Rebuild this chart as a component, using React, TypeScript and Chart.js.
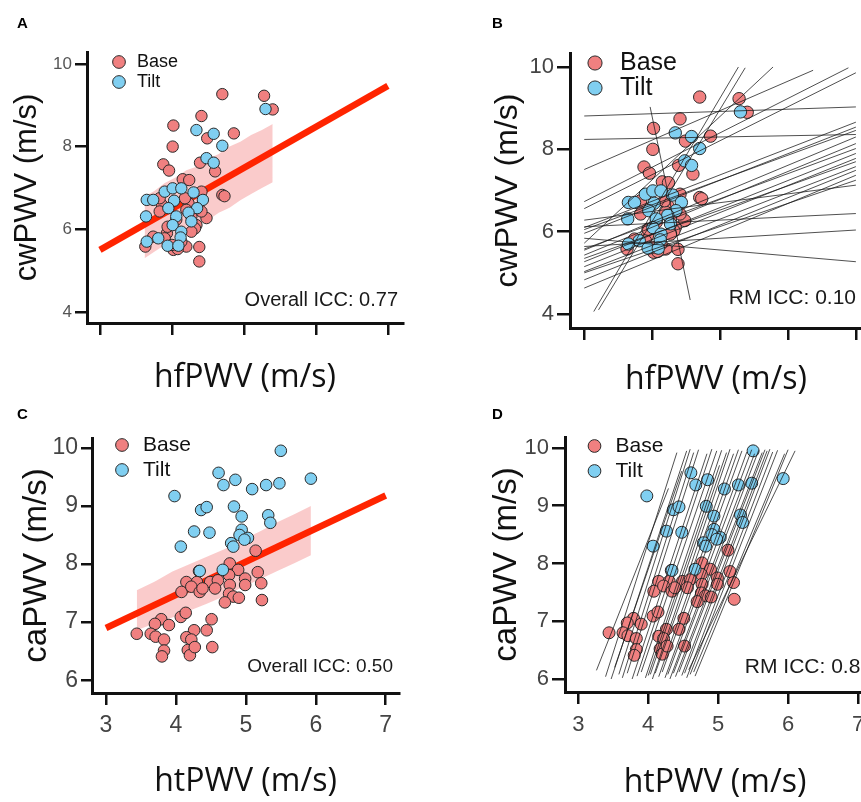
import React, { useEffect, useRef } from 'react';
import { Chart, registerables } from 'chart.js';

Chart.register(...registerables);

// ---------------- data ----------------
// Panels A & B : cwPWV (y) vs hfPWV (x)
const cwBase: number[][] = [
  [4.70, 9.27], [5.28, 9.23], [5.40, 8.90], [4.41, 8.74], [4.02, 8.51], [4.86, 8.32], [4.49, 8.20],
  [4.01, 8.00], [3.88, 7.57], [3.96, 7.42], [4.39, 7.61], [4.60, 7.40], [4.15, 7.21], [4.24, 7.19],
  [4.70, 6.83], [4.73, 6.80], [4.41, 6.91], [4.48, 6.27], [4.38, 5.57], [4.38, 5.22], [3.86, 6.59],
  [3.83, 6.43], [4.23, 6.63], [4.20, 6.47], [4.34, 6.10], [4.32, 6.02], [4.27, 5.94], [3.93, 5.90],
  [3.90, 5.78], [3.74, 5.82], [3.63, 5.58], [4.02, 5.50], [4.20, 5.58], [4.13, 5.70], [3.94, 6.06],
  [4.06, 6.23], [4.41, 6.43], [4.27, 6.31], [3.83, 6.75], [4.18, 6.75], [4.08, 5.52], [4.00, 5.62],
];
const cwTilt: number[][] = [
  [5.30, 8.91], [4.34, 8.40], [4.58, 8.31], [4.70, 8.02], [4.48, 7.72], [4.58, 7.61], [3.65, 6.71],
  [3.74, 6.71], [3.64, 6.31], [3.90, 6.91], [4.01, 6.99], [4.13, 6.99], [4.30, 6.89], [4.43, 6.71],
  [4.03, 6.69], [3.95, 6.51], [4.35, 6.51], [4.23, 6.40], [4.06, 6.31], [4.27, 6.19], [4.01, 6.10],
  [4.13, 5.94], [4.12, 5.80], [3.81, 5.78], [3.65, 5.70], [3.94, 5.60], [4.09, 5.60],
];
const cwFitX = [3, 7];
const cwFitY = [5.50, 9.47];
const cwBandX = [3.62, 3.75, 3.90, 4.05, 4.20, 4.35, 4.50, 4.65, 4.80, 4.95, 5.10, 5.25, 5.40];
const cwBandUpper = [6.80, 6.92, 7.12, 7.25, 7.43, 7.52, 7.70, 7.82, 8.00, 8.12, 8.28, 8.40, 8.55];
const cwBandLower = [5.30, 5.45, 5.62, 5.80, 5.93, 6.10, 6.22, 6.40, 6.52, 6.70, 6.85, 7.00, 7.14];
// per-subject lines [x1, y1, x2, y2]
const cwSubjectLines: number[][] = [
  [3, 8.81, 7, 9.03], [3, 8.24, 7, 8.36], [3, 7.51, 6.37, 9.92], [3, 6.73, 6.89, 9.98],
  [3, 6.56, 7, 9.86], [3, 5.72, 5.78, 10.0], [3.14, 4.06, 5.27, 10.0], [3.21, 4.10, 5.37, 9.98],
  [3.97, 9.03, 4.56, 4.34], [3, 6.28, 7, 7.13], [3, 6.12, 7, 6.44], [3, 5.84, 7, 5.27],
  [3, 5.64, 7, 6.04], [3, 6.10, 7, 8.66], [3, 5.96, 7, 8.54], [3, 6.05, 7, 8.46],
  [3, 5.55, 7, 8.30], [3, 5.43, 7, 8.14], [3, 5.58, 7, 8.02], [3, 5.27, 7, 7.90],
  [3, 5.15, 7, 7.78], [3, 5.35, 7, 7.70], [3, 5.03, 7, 7.58], [3, 4.83, 7, 7.49],
  [3, 4.63, 7, 7.37], [3, 5.00, 7, 7.25],
];

// Panels C & D : caPWV (y) vs htPWV (x)
const caBase: number[][] = [
  [5.14, 8.23], [4.77, 8.01], [4.33, 7.88], [4.89, 7.90], [5.17, 7.86], [4.15, 7.69], [4.30, 7.69],
  [4.49, 7.69], [4.60, 7.72], [4.76, 7.81], [4.99, 7.75], [4.08, 7.52], [4.22, 7.61], [4.34, 7.52],
  [4.38, 7.58], [4.56, 7.58], [4.77, 7.64], [4.99, 7.64], [5.22, 7.67], [4.76, 7.49], [4.82, 7.44],
  [4.90, 7.42], [4.70, 7.34], [5.23, 7.38], [4.07, 7.09], [4.14, 7.16], [4.51, 7.05], [3.79, 7.05],
  [3.70, 6.97], [3.90, 6.95], [3.44, 6.80], [3.64, 6.80], [3.71, 6.75], [3.83, 6.70], [4.26, 6.86],
  [4.15, 6.74], [4.44, 6.86], [4.22, 6.70], [3.83, 6.51], [3.80, 6.41], [4.17, 6.52], [4.20, 6.43],
  [4.27, 6.57], [4.52, 6.57],
];
const caTilt: number[][] = [
  [5.50, 9.95], [4.61, 9.57], [4.68, 9.36], [4.85, 9.45], [5.09, 9.29], [5.29, 9.36], [5.48, 9.39],
  [5.93, 9.47], [3.98, 9.17], [4.36, 8.93], [4.44, 8.98], [4.83, 8.99], [4.94, 8.82], [5.32, 8.84],
  [5.35, 8.71], [4.26, 8.56], [4.48, 8.54], [4.94, 8.59], [4.91, 8.50], [5.03, 8.45], [4.98, 8.42],
  [4.79, 8.36], [4.82, 8.30], [4.07, 8.30], [4.34, 7.88], [4.67, 7.90],
];
const caFitX = [3, 7];
const caFitY = [6.90, 9.18];
const caBandX = [3.44, 3.70, 3.95, 4.20, 4.45, 4.70, 4.95, 5.20, 5.45, 5.70, 5.93];
const caBandUpper = [7.55, 7.70, 7.87, 8.00, 8.13, 8.26, 8.42, 8.56, 8.72, 8.86, 9.00];
const caBandLower = [6.86, 6.98, 7.08, 7.20, 7.32, 7.45, 7.60, 7.74, 7.88, 8.02, 8.15];
const caSubjectLines: number[][] = [
  [3.26, 6.15, 4.29, 9.30], [3.39, 6.04, 4.41, 9.92], [3.47, 6.00, 4.55, 9.95], [3.58, 6.08, 4.60, 9.98],
  [3.63, 6.02, 4.65, 9.92], [3.70, 6.10, 4.72, 9.97], [3.77, 6.00, 4.84, 9.90], [3.84, 6.05, 4.91, 9.98],
  [3.90, 6.12, 4.98, 9.95], [3.96, 6.02, 5.05, 9.96], [4.03, 6.08, 5.12, 9.92], [4.06, 6.00, 5.17, 9.98],
  [4.10, 6.10, 5.22, 9.90], [4.15, 6.04, 5.29, 9.97], [4.20, 6.12, 5.34, 9.95], [4.24, 6.02, 5.41, 9.93],
  [4.28, 6.08, 5.48, 9.97], [4.31, 6.00, 5.52, 9.90], [4.36, 6.10, 5.58, 9.96], [4.39, 6.04, 5.63, 9.92],
  [4.44, 6.12, 5.67, 9.97], [4.48, 6.06, 5.70, 9.95], [4.52, 6.10, 5.74, 9.98], [4.55, 6.02, 5.78, 9.93],
  [4.60, 6.08, 5.85, 9.96], [4.65, 6.12, 5.95, 9.90], [4.67, 6.05, 6.00, 9.97], [4.58, 6.16, 6.10, 9.95],
  [3.52, 6.20, 4.48, 9.60], [4.00, 6.06, 5.02, 9.70],
];

const seriesNames = ['Base', 'Tilt'];
const panelLetters = ['A', 'B', 'C', 'D'];
const iccNotes = ['Overall ICC: 0.77', 'RM ICC: 0.10', 'Overall ICC: 0.50', 'RM ICC: 0.81'];

// ---------------- styling ----------------
const FONT = "'Liberation Sans', Arial, Helvetica, sans-serif";
const XFONT = "'Open Sans', 'Liberation Sans', sans-serif";
const BASE_FILL = '#F08080';
const TILT_FILL = '#80CFF1';
const EDGE = '#2a2a2a';
const INK = '#111111';

const toPts = (pairs: number[][]) => pairs.map(([x, y]) => ({ x, y }));
const zipPts = (xs: number[], ys: number[]) => xs.map((x, i) => ({ x, y: ys[i] }));

const extras = {
  id: 'panelExtras',
  beforeDraw(chart: any, _a: any, o: any) {
    const lg = chart.legend;
    const ca = chart.chartArea;
    if (lg) {
      const w = lg.right - lg.left;
      lg.left = ca.left + o.legendDx;
      lg.right = lg.left + w;
      lg.top = ca.top + o.legendDy;
      lg.bottom = ca.bottom;
    }
  },
  afterDraw(chart: any, _a: any, o: any) {
    const ctx = chart.ctx;
    const ca = chart.chartArea;
    ctx.save();
    ctx.font = `${o.noteSize}px ${FONT}`;
    ctx.fillStyle = '#1a1a1a';
    ctx.textAlign = 'right';
    ctx.textBaseline = 'middle';
    ctx.fillText(o.note, ca.right - o.noteInset, ca.bottom - o.noteUp);
    ctx.restore();
  },
};

type Cfg = any;

const panels: Cfg[] = [
  {
    left: 0, top: 0, w: 430, h: 400, area: { l: 87, t: 52, r: 403, b: 323 },
    xMin: 2.82, xMax: 7.21, yMin: 3.73, yMax: 10.29, yStep: 2, xLabels: false,
    tickSize: 17, tickColor: '#555', tickLen: 12, tickPadY: 3, tickPadX: 3,
    yTitle: 'cwPWV (m/s)', yTitleSize: 31, yTitlePad: 8.9,
    xTitle: 'hfPWV (m/s)', xTitleSize: 32, xTitlePad: 2.8,
    legendSize: 18, legendBoxW: 18, legendBoxH: 9, legendPad: 2, legendDx: 21, legendDy: -1,
    r: 5.7, base: cwBase, tilt: cwTilt,
    fit: { x: cwFitX, y: cwFitY, bx: cwBandX, up: cwBandUpper, lo: cwBandLower },
    note: iccNotes[0], noteSize: 20, noteInset: 5, noteUp: 23,
  },
  {
    left: 430, top: 0, w: 460, h: 400, area: { l: 140, t: 53, r: 432, b: 328 },
    xMin: 2.79, xMax: 7.09, yMin: 3.66, yMax: 10.34, yStep: 2, xLabels: false,
    tickSize: 22, tickColor: '#444', tickLen: 13, tickPadY: 3, tickPadX: 3,
    yTitle: 'cwPWV (m/s)', yTitleSize: 32, yTitlePad: 58.8,
    xTitle: 'hfPWV (m/s)', xTitleSize: 32, xTitlePad: 0.8,
    legendSize: 25, legendBoxW: 25, legendBoxH: 10, legendPad: 0, legendDx: 12.5, legendDy: -2.5,
    r: 6.2, base: cwBase, tilt: cwTilt, lines: cwSubjectLines,
    note: iccNotes[1], noteSize: 21, noteInset: 6, noteUp: 30,
  },
  {
    left: 0, top: 400, w: 430, h: 402, area: { l: 92, t: 38, r: 399, b: 293 },
    xMin: 2.8, xMax: 7.19, yMin: 5.78, yMax: 10.17, yStep: 1, xLabels: true,
    tickSize: 23, tickColor: '#444', tickLen: 11, tickPadY: 3, tickPadX: 7.2,
    yTitle: 'caPWV (m/s)', yTitleSize: 33, yTitlePad: 17.2,
    xTitle: 'htPWV (m/s)', xTitleSize: 32, xTitlePad: 0.8,
    legendSize: 21, legendBoxW: 21, legendBoxH: 9, legendPad: 4, legendDx: 15.5, legendDy: -7.5,
    r: 5.8, base: caBase, tilt: caTilt,
    fit: { x: caFitX, y: caFitY, bx: caBandX, up: caBandUpper, lo: caBandLower },
    note: iccNotes[2], noteSize: 19, noteInset: 6, noteUp: 26,
  },
  {
    left: 430, top: 400, w: 460, h: 402, area: { l: 135, t: 37, r: 435, b: 292 },
    xMin: 2.81, xMax: 7.10, yMin: 5.775, yMax: 10.19, yStep: 1, xLabels: true,
    tickSize: 22, tickColor: '#444', tickLen: 13, tickPadY: 3, tickPadX: 8,
    yTitle: 'caPWV (m/s)', yTitleSize: 33, yTitlePad: 57.2,
    xTitle: 'htPWV (m/s)', xTitleSize: 32, xTitlePad: 0,
    legendSize: 21, legendBoxW: 21, legendBoxH: 9, legendPad: 4, legendDx: 15, legendDy: -5.5,
    r: 6.0, base: caBase, tilt: caTilt, lines: caSubjectLines,
    note: iccNotes[3], noteSize: 21, noteInset: -7, noteUp: 25,
  },
];

function buildConfig(c: Cfg): any {
  const datasets: any[] = [
    {
      label: seriesNames[0], data: toPts(c.base), backgroundColor: BASE_FILL, borderColor: EDGE,
      borderWidth: 1, pointRadius: c.r, order: 2,
    },
    {
      label: seriesNames[1], data: toPts(c.tilt), backgroundColor: TILT_FILL, borderColor: EDGE,
      borderWidth: 1, pointRadius: c.r, order: 1,
    },
  ];
  if (c.fit) {
    datasets.push({
      type: 'line', label: 'fit', data: zipPts(c.fit.x, c.fit.y), borderColor: '#FF2400',
      borderWidth: 6.5, pointRadius: 0, fill: false, order: 3, borderCapStyle: 'butt',
    });
    datasets.push({
      type: 'line', label: 'band-lower', data: zipPts(c.fit.bx, c.fit.lo), borderWidth: 0,
      borderColor: 'rgba(0,0,0,0)', pointRadius: 0, fill: false, order: 5,
    });
    datasets.push({
      type: 'line', label: 'band-upper', data: zipPts(c.fit.bx, c.fit.up), borderWidth: 0,
      borderColor: 'rgba(0,0,0,0)', pointRadius: 0, fill: '-1', backgroundColor: 'rgba(246,160,160,0.55)', order: 4,
    });
  }
  if (c.lines) {
    c.lines.forEach((ln: number[], i: number) => {
      datasets.push({
        type: 'line', label: 'subject ' + (i + 1), data: [{ x: ln[0], y: ln[1] }, { x: ln[2], y: ln[3] }],
        borderColor: 'rgba(25,25,25,0.85)', borderWidth: 0.9, pointRadius: 0, fill: false, order: 0,
      });
    });
  }

  return {
    type: 'scatter',
    data: { datasets },
    plugins: [extras],
    options: {
      responsive: false,
      maintainAspectRatio: false,
      animation: false,
      devicePixelRatio: 1,
      events: [],
      layout: { padding: { left: 0, top: c.area.t, right: c.w - c.area.r, bottom: 0 } },
      scales: {
        x: {
          type: 'linear', position: 'bottom', min: c.xMin, max: c.xMax,
          afterFit: (s: any) => { s.height = c.h - c.area.b; },
          ticks: {
            stepSize: 1, includeBounds: false, autoSkip: false, maxRotation: 0,
            callback: (v: any) => (c.xLabels ? String(v) : ''),
            font: { family: FONT, size: c.tickSize }, color: c.tickColor, padding: c.tickPadX,
          },
          grid: { display: true, drawOnChartArea: false, drawTicks: true, tickLength: 12, color: INK, lineWidth: 2.5 },
          border: { display: true, color: INK, width: 3 },
          title: {
            display: true, text: c.xTitle, color: INK,
            font: { family: XFONT, size: c.xTitleSize }, padding: { top: 0, bottom: c.xTitlePad },
          },
        },
        y: {
          type: 'linear', position: 'left', min: c.yMin, max: c.yMax,
          afterFit: (s: any) => { s.width = c.area.l; },
          ticks: {
            stepSize: c.yStep, includeBounds: false, autoSkip: false,
            font: { family: FONT, size: c.tickSize }, color: c.tickColor, padding: c.tickPadY,
          },
          grid: { display: true, drawOnChartArea: false, drawTicks: true, tickLength: c.tickLen, color: INK, lineWidth: 2.5 },
          border: { display: true, color: INK, width: 3 },
          title: {
            display: true, text: c.yTitle, color: INK,
            font: { family: FONT, size: c.yTitleSize }, padding: { top: c.yTitlePad, bottom: 0 },
          },
        },
      },
      plugins: {
        tooltip: { enabled: false },
        title: { display: false },
        legend: {
          display: true, position: 'chartArea', align: 'start',
          labels: {
            usePointStyle: true, pointStyle: 'circle',
            boxWidth: c.legendBoxW, boxHeight: c.legendBoxH, padding: c.legendPad,
            color: INK, font: { family: FONT, size: c.legendSize },
            filter: (item: any) => item.datasetIndex < 2,
            sort: (a: any, b: any) => a.datasetIndex - b.datasetIndex,
          },
        },
        panelExtras: {
          legendDx: c.legendDx, legendDy: c.legendDy,
          note: c.note, noteSize: c.noteSize, noteInset: c.noteInset, noteUp: c.noteUp,
        },
      },
    },
  };
}

function Panel({ cfg }: { cfg: Cfg }) {
  const ref = useRef<HTMLCanvasElement | null>(null);
  useEffect(() => {
    if (!ref.current) return;
    const chart = new Chart(ref.current, buildConfig(cfg));
    return () => chart.destroy();
  }, [cfg]);
  return (
    <div style={{ position: 'absolute', left: cfg.left, top: cfg.top, width: cfg.w, height: cfg.h }}>
      <canvas ref={ref} width={cfg.w} height={cfg.h} style={{ width: cfg.w, height: cfg.h, display: 'block' }} />
    </div>
  );
}

const letterPos = [
  { left: 17, top: 15 },
  { left: 492, top: 15 },
  { left: 17, top: 406 },
  { left: 492, top: 406 },
];

export default function App() {
  return (
    <div style={{ position: 'absolute', left: 0, top: 0, width: 861, height: 802, overflow: 'hidden', background: '#ffffff' }}>
      {panels.map((p, i) => <Panel key={panelLetters[i]} cfg={p} />)}
      {panelLetters.map((l, i) => (
        <div
          key={'lbl' + l}
          style={{
            position: 'absolute', left: letterPos[i].left, top: letterPos[i].top,
            font: `bold 15px ${FONT}`, lineHeight: '15px', color: '#000',
          }}
        >
          {l}
        </div>
      ))}
    </div>
  );
}
